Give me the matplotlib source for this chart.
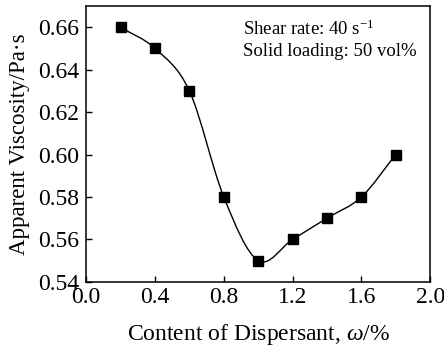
import numpy as np
import matplotlib
matplotlib.use('Agg')
import matplotlib.pyplot as plt
from matplotlib.path import Path
from matplotlib.patches import PathPatch

plt.rcParams['font.family'] = 'Liberation Serif'
plt.rcParams['mathtext.fontset'] = 'custom'
plt.rcParams['mathtext.rm'] = 'Liberation Serif'
plt.rcParams['mathtext.it'] = 'Liberation Serif:italic'

# dispersant content (wt%) vs apparent viscosity
content = [0.2, 0.4, 0.6, 0.8, 1.0, 1.2, 1.4, 1.6, 1.8]
viscosity = [0.66, 0.65, 0.63, 0.58, 0.55, 0.56, 0.57, 0.58, 0.60]
xticks = [0.0, 0.4, 0.8, 1.2, 1.6, 2.0]
yticks = [0.54, 0.56, 0.58, 0.60, 0.62, 0.64, 0.66]

fig = plt.figure(figsize=(4.44, 3.51), dpi=100)
ax = fig.add_axes([0.194, 0.197, 0.775, 0.786])

# smooth connector: catmull-rom segments as cubic bezier path
x = np.array(content)
y = np.array(viscosity)
px = np.concatenate([[2*x[0]-x[1]], x, [2*x[-1]-x[-2]]])
py = np.concatenate([[2*y[0]-y[1]], y, [2*y[-1]-y[-2]]])
verts = [(x[0], y[0])]
codes = [Path.MOVETO]
for i in range(1, len(px)-2):
    c1 = (px[i] + (px[i+1]-px[i-1])/6, py[i] + (py[i+1]-py[i-1])/6)
    c2 = (px[i+1] - (px[i+2]-px[i])/6, py[i+1] - (py[i+2]-py[i])/6)
    verts += [c1, c2, (px[i+1], py[i+1])]
    codes += [Path.CURVE4]*3
ax.add_patch(PathPatch(Path(verts, codes), fill=False, lw=1.0, color='black'))
ax.plot(content, viscosity, ls='none', marker='s', ms=6.5, color='black')

ax.set_xlim(0, 2.0)
ax.set_ylim(0.54, 0.67)
ax.set_xticks(xticks)
ax.set_yticks(yticks)
ax.set_xticklabels([f'{v:.1f}' for v in xticks])
ax.set_yticklabels([f'{v:.2f}' for v in yticks])
ax.tick_params(direction='in', length=4, width=1, labelsize=17)
ax.tick_params(axis='x', pad=4)
ax.tick_params(axis='y', pad=5)
for s in ax.spines.values():
    s.set_linewidth(1.1)

ax.set_xlabel(r'Content of Dispersant, $\omega$/%', fontsize=17, labelpad=10)
ax.set_ylabel('Apparent Viscosity/Pa·s', fontsize=16.5, labelpad=6)

ax.text(0.455, 0.917, r'Shear rate: 40 s$^{\mathregular{-1}}$', transform=ax.transAxes,
        fontsize=13.5, va='center')
ax.text(0.455, 0.835, 'Solid loading: 50 vol%', transform=ax.transAxes,
        fontsize=13.5, va='center')

fig.savefig('out.png', dpi=100)
